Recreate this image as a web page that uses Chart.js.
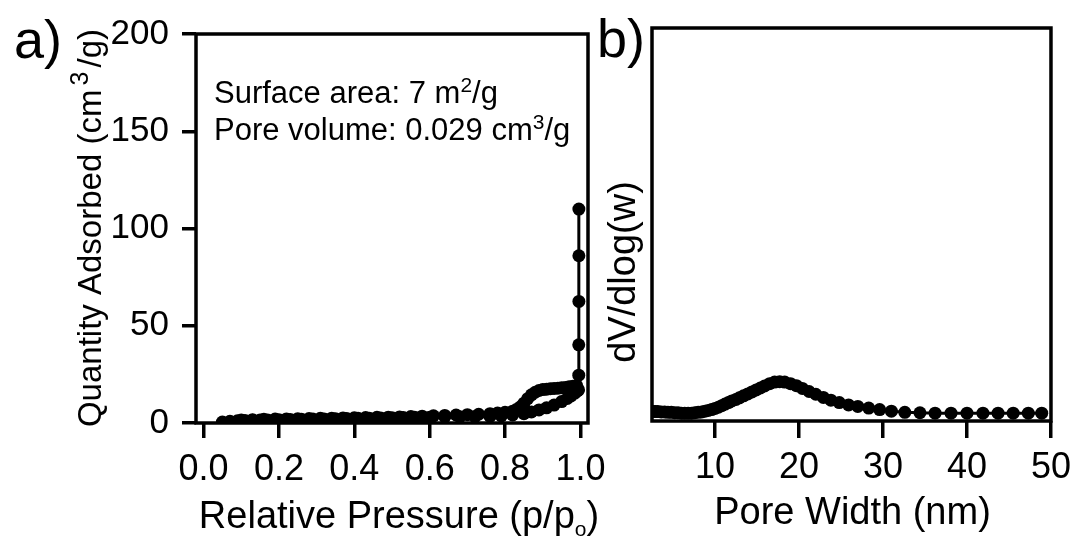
<!DOCTYPE html>
<html><head><meta charset="utf-8">
<script src="https://cdn.jsdelivr.net/npm/chart.js@4.4.0/dist/chart.umd.min.js"></script>
<style>
html,body{margin:0;padding:0;background:#fff;width:1079px;height:542px;overflow:hidden;}
#a{position:absolute;left:0;top:0;width:620px;height:542px;}
#b{position:absolute;left:590px;top:0;width:489px;height:542px;}
</style></head><body>
<canvas id="a" width="620" height="542"></canvas>
<canvas id="b" width="489" height="542"></canvas>
<script>
// ---- data (a) isotherm ----
const adsP = [0.05,0.07,0.09,0.11,0.13,0.15,0.17,0.20,0.23,0.26,0.29,0.32,0.35,0.38,0.41,0.44,0.47,0.50,0.53,0.56,0.60,0.64,0.68,0.72,0.76,0.79,0.82,0.85,0.87,0.89,0.91,0.93,0.95,0.965,0.975,0.985,0.992,0.995,0.9955,0.9955,0.9958,0.9958,0.9958];
const adsQ = [0.5,0.9,1.1,1.3,1.4,1.5,1.6,1.7,1.8,1.9,2.0,2.1,2.2,2.3,2.4,2.5,2.6,2.7,2.8,2.9,3.0,3.1,3.2,3.3,3.4,3.7,4.1,4.8,5.7,6.7,7.8,9.2,11.0,12.6,13.9,15.4,16.5,17.0,24.6,40.2,62.5,86.0,110.0];
const desP = [0.99,0.98,0.97,0.96,0.95,0.94,0.93,0.92,0.91,0.90,0.89,0.88,0.87,0.86,0.85,0.84,0.83,0.82,0.80,0.78,0.76,0.73,0.70,0.67,0.64,0.61,0.58,0.55,0.52,0.49,0.46,0.43,0.40,0.37,0.34,0.31,0.28,0.25,0.22,0.19,0.16,0.13,0.10];
const desQ = [19.2,18.9,18.6,18.3,18.1,17.9,17.8,17.6,17.4,17.2,16.7,15.8,14.5,12.5,10.2,8.2,6.9,6.1,5.5,5.1,4.8,4.5,4.3,4.1,3.9,3.7,3.5,3.3,3.1,3.0,2.9,2.8,2.7,2.6,2.5,2.4,2.3,2.2,2.1,2.0,1.9,1.7,1.5];
const isoXTicks = [0,0.2,0.4,0.6,0.8,1.0];
const isoYTicks = [0,50,100,150,200];

// ---- data (b) pore size distribution ----
const poreW = [2.7,2.9,3.2,3.6,4.0,4.4,4.8,5.2,5.6,6.0,6.4,6.8,7.2,7.6,8.0,8.4,8.8,9.2,9.6,10.0,10.4,10.8,11.2,11.6,12.0,12.5,12.9,13.4,13.9,14.4,14.9,15.4,15.9,16.5,17.1,17.7,18.3,19.0,19.7,20.4,21.2,22.0,22.9,23.8,24.8,25.9,27.0,28.3,29.6,31.0,32.6,34.4,36.2,38.1,40.0,41.9,43.7,45.5,47.3,48.9];
const poreDV = [0.024,0.024,0.024,0.023,0.023,0.022,0.022,0.021,0.021,0.020,0.020,0.020,0.020,0.021,0.022,0.023,0.025,0.027,0.029,0.032,0.035,0.039,0.043,0.047,0.051,0.055,0.059,0.064,0.069,0.074,0.079,0.084,0.089,0.095,0.099,0.100,0.099,0.095,0.090,0.083,0.075,0.068,0.060,0.053,0.047,0.041,0.037,0.033,0.029,0.025,0.022,0.021,0.020,0.020,0.020,0.020,0.020,0.020,0.020,0.020];
const poreXTicks = [10,20,30,40,50];

const FONT = '"Liberation Sans", Arial, sans-serif';

function drawRich(ctx, x, y, segs, size, align, rot) {
  ctx.save();
  ctx.translate(x, y);
  if (rot) ctx.rotate(rot);
  ctx.fillStyle = '#000';
  ctx.textBaseline = 'alphabetic';
  ctx.textAlign = 'left';
  let total = 0;
  const widths = segs.map(s => {
    ctx.font = Math.round(size * (s.s || 1)) + 'px ' + FONT;
    const w = ctx.measureText(s.t).width + (s.gap || 0) * size;
    total += w;
    return w;
  });
  let cx = align === 'center' ? -total / 2 : 0;
  segs.forEach((s, i) => {
    ctx.font = Math.round(size * (s.s || 1)) + 'px ' + FONT;
    ctx.fillText(s.t, cx + (s.gap || 0) * size / 2, (s.dy || 0) * size);
    cx += widths[i];
  });
  ctx.restore();
}

function boxPlugin(id) {
  return {
    id: id,
    beforeDatasetsDraw(chart) {
      const a = chart.chartArea, ctx = chart.ctx;
      ctx.save();
      ctx.strokeStyle = '#000';
      ctx.lineWidth = 3.5;
      ctx.strokeRect(a.left, a.top, a.right - a.left, a.bottom - a.top);
      ctx.restore();
    }
  };
}

const lineStyle = {
  borderColor: '#000', backgroundColor: '#000', borderWidth: 3,
  pointRadius: 6.5, pointBackgroundColor: '#000', pointBorderWidth: 0,
  pointHoverRadius: 6.5, showLine: true, tension: 0, fill: false
};

const tickGrid = (len) => ({ display: true, drawOnChartArea: false, drawTicks: true, tickLength: len, lineWidth: 3.5, color: '#000' });

// ---- chart (a) ----
new Chart(document.getElementById('a'), {
  type: 'scatter',
  data: {
    datasets: [
      Object.assign({ label: 'Adsorption', data: adsP.map((p, i) => ({ x: p, y: adsQ[i] })) }, lineStyle),
      Object.assign({ label: 'Desorption', data: desP.map((p, i) => ({ x: p, y: desQ[i] })) }, lineStyle)
    ]
  },
  options: {
    responsive: false, animation: false, devicePixelRatio: 1,
    layout: { padding: { left: 0, right: 32, top: 27, bottom: 0 } },
    plugins: { legend: { display: false }, tooltip: { enabled: false } },
    scales: {
      x: {
        type: 'linear', min: -0.02, max: 1.02,
        afterBuildTicks: s => { s.ticks = isoXTicks.map(v => ({ value: v })); },
        afterFit: s => { s.height = 119; },
        grid: tickGrid(15), border: { display: false },
        ticks: { color: '#000', padding: 10, maxRotation: 0, autoSkip: false,
          font: { family: FONT, size: 36 }, callback: v => Number(v).toFixed(1) }
      },
      y: {
        type: 'linear', min: 0, max: 200,
        afterBuildTicks: s => { s.ticks = isoYTicks.map(v => ({ value: v })); },
        afterFit: s => { s.width = 196; },
        grid: tickGrid(14), border: { display: false },
        ticks: { color: '#000', padding: 13, autoSkip: false, font: { family: FONT, size: 35 } }
      }
    }
  },
  plugins: [boxPlugin('boxA'), {
    id: 'textA',
    afterDraw(chart) {
      const ctx = chart.ctx;
      drawRich(ctx, 14, 58, [{ t: 'a)' }], 54, 'left');
      drawRich(ctx, 214, 103, [{ t: 'Surface area: 7 m' }, { t: '2', s: 0.68, dy: -0.36 }, { t: '/g' }], 31, 'left');
      drawRich(ctx, 214, 140, [{ t: 'Pore volume: 0.029 cm' }, { t: '3', s: 0.68, dy: -0.36 }, { t: '/g' }], 31, 'left');
      drawRich(ctx, 399, 528, [{ t: 'Relative Pressure (p/p' }, { t: 'o', s: 0.55, dy: 0.2 }, { t: ')' }], 38, 'center');
      drawRich(ctx, 101, 228, [{ t: 'Quantity Adsorbed (cm' }, { t: '3', s: 0.75, dy: -0.4, gap: 0.25 }, { t: '/g)' }], 33, 'center', -Math.PI / 2);
    }
  }]
});

// ---- chart (b) ----
new Chart(document.getElementById('b'), {
  type: 'scatter',
  data: {
    datasets: [
      Object.assign({ label: 'PSD', data: poreW.map((w, i) => ({ x: w, y: poreDV[i] })) }, lineStyle)
    ]
  },
  options: {
    responsive: false, animation: false, devicePixelRatio: 1,
    layout: { padding: { left: 62, right: 26, top: 28, bottom: 0 } },
    plugins: { legend: { display: false }, tooltip: { enabled: false } },
    scales: {
      x: {
        type: 'linear', min: 2.5, max: 50,
        afterBuildTicks: s => { s.ticks = poreXTicks.map(v => ({ value: v })); },
        afterFit: s => { s.height = 121; },
        grid: tickGrid(17), border: { display: false },
        ticks: { color: '#000', padding: 8, maxRotation: 0, autoSkip: false,
          font: { family: FONT, size: 36 } }
      },
      y: { type: 'linear', min: 0, max: 1, display: false }
    }
  },
  plugins: [boxPlugin('boxB'), {
    id: 'textB',
    afterDraw(chart) {
      const ctx = chart.ctx;
      drawRich(ctx, 7, 57, [{ t: 'b)' }], 54, 'left');
      drawRich(ctx, 262.5, 524, [{ t: 'Pore Width (nm)' }], 38, 'center');
      drawRich(ctx, 45, 272, [{ t: 'dV/dlog(w)' }], 38, 'center', -Math.PI / 2);
    }
  }]
});
</script>
</body></html>
